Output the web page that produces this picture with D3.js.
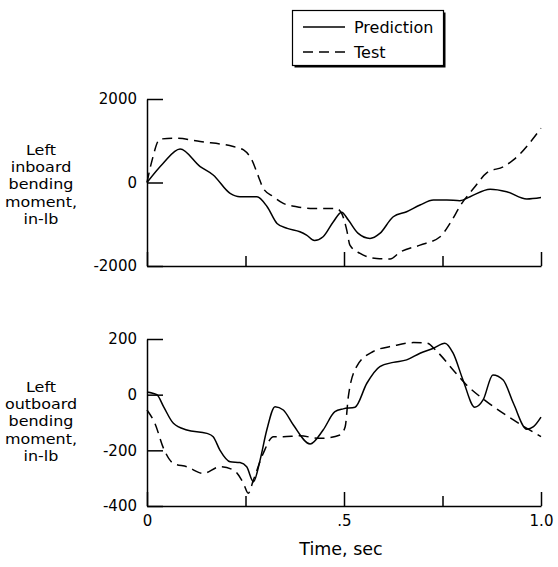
<!DOCTYPE html>
<html>
<head>
<meta charset="utf-8">
<script src="https://cdn.jsdelivr.net/npm/d3@7"></script>
<style>
  html, body { margin: 0; padding: 0; background: #fff; }
  svg { display: block; }
  text { font-family: "DejaVu Sans", "Liberation Sans", sans-serif; fill: #000; }
</style>
</head>
<body>
<div id="chart"></div>
<script>
// time, sec
const predInT = [0, 0.04, 0.084, 0.135, 0.168, 0.211, 0.236, 0.279, 0.305, 0.33, 0.356, 0.388, 0.405, 0.425, 0.447, 0.473, 0.494, 0.511, 0.536, 0.566, 0.591, 0.625, 0.659, 0.693, 0.727, 0.761, 0.794, 0.82, 0.871, 0.913, 0.964, 1.0];
const predIn  = [0, 450, 800, 380, 180, -260, -340, -340, -580, -980, -1100, -1180, -1260, -1390, -1300, -940, -710, -900, -1220, -1340, -1220, -820, -700, -540, -420, -420, -435, -340, -160, -220, -395, -360];

const testInT = [0, 0.012, 0.033, 0.075, 0.135, 0.219, 0.245, 0.266, 0.283, 0.295, 0.321, 0.346, 0.38, 0.422, 0.48, 0.494, 0.507, 0.515, 0.541, 0.583, 0.617, 0.642, 0.693, 0.744, 0.769, 0.799, 0.829, 0.863, 0.905, 0.93, 1.0];
const testIn  = [0, 500, 1040, 1060, 980, 860, 780, 540, 140, -140, -340, -500, -580, -620, -620, -740, -1140, -1500, -1700, -1820, -1830, -1670, -1500, -1300, -980, -500, -140, 235, 380, 540, 1300];

const predOutT = [0, 0.025, 0.042, 0.067, 0.101, 0.152, 0.168, 0.185, 0.211, 0.236, 0.253, 0.27, 0.287, 0.304, 0.325, 0.346, 0.372, 0.414, 0.447, 0.477, 0.498, 0.528, 0.558, 0.591, 0.625, 0.659, 0.693, 0.727, 0.756, 0.777, 0.802, 0.832, 0.853, 0.878, 0.904, 0.93, 0.964, 0.981, 1.0];
const predOut  = [10, 0, -43, -103, -127, -139, -151, -199, -241, -244, -259, -313, -235, -127, -43, -55, -110, -177, -127, -61, -51, -45, 41, 101, 116, 125, 149, 167, 185, 149, 53, -45, -19, 71, 53, -31, -124, -115, -81];

const testOutT = [0, 0.02, 0.042, 0.067, 0.101, 0.143, 0.185, 0.22, 0.245, 0.257, 0.27, 0.295, 0.321, 0.346, 0.388, 0.439, 0.49, 0.503, 0.511, 0.532, 0.574, 0.625, 0.676, 0.71, 0.736, 0.777, 0.811, 0.862, 0.93, 1.0];
const testOut  = [-55, -103, -193, -247, -259, -283, -259, -271, -319, -354, -307, -211, -151, -151, -148, -157, -145, -115, -7, 101, 155, 175, 187, 185, 155, 89, 35, -25, -91, -151];

const xMajor = [0, 0.5, 1];
const xMinor = [0.25, 0.75];
const xLabels = ["0", ".5", "1.0"];
const inTicks = [2000, 0, -2000];
const outTicks = [200, 0, -200, -400];
const inLabel = ["Left", "inboard", "bending", "moment,", "in-lb"];
const outLabel = ["Left", "outboard", "bending", "moment,", "in-lb"];
const legendNames = ["Prediction", "Test"];

const W = 558, H = 567;
const svg = d3.select("#chart").append("svg")
  .attr("width", W).attr("height", H);

const x = d3.scaleLinear().domain([0, 1]).range([147, 541]);
const DASH = "10,6";

function drawPanel(cfg) {
  const y = d3.scaleLinear().domain(cfg.domain).range(cfg.range);
  const g = svg.append("g");

  // y axis, ticks pointing inward
  const ya = g.append("g")
    .attr("transform", `translate(${x(0)},0)`)
    .call(d3.axisLeft(y).tickValues(cfg.ticks).tickSize(-16).tickSizeOuter(0).tickPadding(10)
      .tickFormat(d => String(d)));
  ya.selectAll("path, line").attr("stroke", "#000").attr("stroke-width", 1.5);
  ya.selectAll("text").attr("font-family", null).style("font-size", "15px");

  // x axis, major + minor ticks pointing up
  const xa = g.append("g")
    .attr("transform", `translate(0,${cfg.range[0]})`)
    .call(d3.axisBottom(x).tickValues(xMajor).tickSize(-14).tickSizeOuter(0).tickPadding(9)
      .tickFormat((d, i) => cfg.xlabels ? xLabels[i] : ""));
  xa.selectAll("path, line").attr("stroke", "#000").attr("stroke-width", 1.5);
  xa.selectAll("text").attr("font-family", null).style("font-size", "15px");

  const xm = g.append("g")
    .attr("transform", `translate(0,${cfg.range[0]})`)
    .call(d3.axisBottom(x).tickValues(xMinor).tickSize(-10).tickFormat(""));
  xm.select(".domain").remove();
  xm.selectAll("line").attr("stroke", "#000").attr("stroke-width", 1.5);

  const line = d3.line()
    .x(d => x(d[0])).y(d => y(d[1]))
    .curve(d3.curveMonotoneX);

  g.append("path")
    .datum(cfg.testT.map((t, i) => [t, cfg.test[i]]))
    .attr("fill", "none").attr("stroke", "#000").attr("stroke-width", 1.5)
    .attr("stroke-dasharray", DASH)
    .attr("d", line);

  g.append("path")
    .datum(cfg.predT.map((t, i) => [t, cfg.pred[i]]))
    .attr("fill", "none").attr("stroke", "#000").attr("stroke-width", 1.5)
    .attr("d", line);

  // multi-line y label, slightly widened like the scan
  const lab = g.append("text")
    .attr("text-anchor", "middle")
    .attr("transform", "translate(41,0) scale(1.1,1)")
    .style("font-size", "14.5px");
  cfg.label.forEach((s, i) => {
    lab.append("tspan")
      .attr("x", 0).attr("y", cfg.labelY + i * 17.2)
      .text(s);
  });
}

drawPanel({
  domain: [-2000, 2000], range: [266, 99], ticks: inTicks,
  predT: predInT, pred: predIn, testT: testInT, test: testIn,
  label: inLabel, labelY: 155, xlabels: false
});

drawPanel({
  domain: [-400, 200], range: [506, 339], ticks: outTicks,
  predT: predOutT, pred: predOut, testT: testOutT, test: testOut,
  label: outLabel, labelY: 392, xlabels: true
});

svg.append("text")
  .attr("x", 341).attr("y", 555)
  .attr("text-anchor", "middle")
  .style("font-size", "17.5px")
  .text("Time, sec");

// legend with drop shadow
const leg = svg.append("g");
leg.append("rect")
  .attr("x", 294.5).attr("y", 12.5).attr("width", 151).attr("height", 55)
  .attr("fill", "#000");
leg.append("rect")
  .attr("x", 292.5).attr("y", 10.5).attr("width", 151).attr("height", 55)
  .attr("fill", "#fff").attr("stroke", "#000").attr("stroke-width", 1.2);

legendNames.forEach((name, i) => {
  const ly = 27 + i * 25;
  leg.append("line")
    .attr("x1", 303).attr("x2", 345).attr("y1", ly).attr("y2", ly)
    .attr("stroke", "#000").attr("stroke-width", 1.5)
    .attr("stroke-dasharray", i === 1 ? DASH : null);
  leg.append("text")
    .attr("x", 354).attr("y", ly + 6)
    .style("font-size", "16px")
    .text(name);
});
</script>
</body>
</html>
